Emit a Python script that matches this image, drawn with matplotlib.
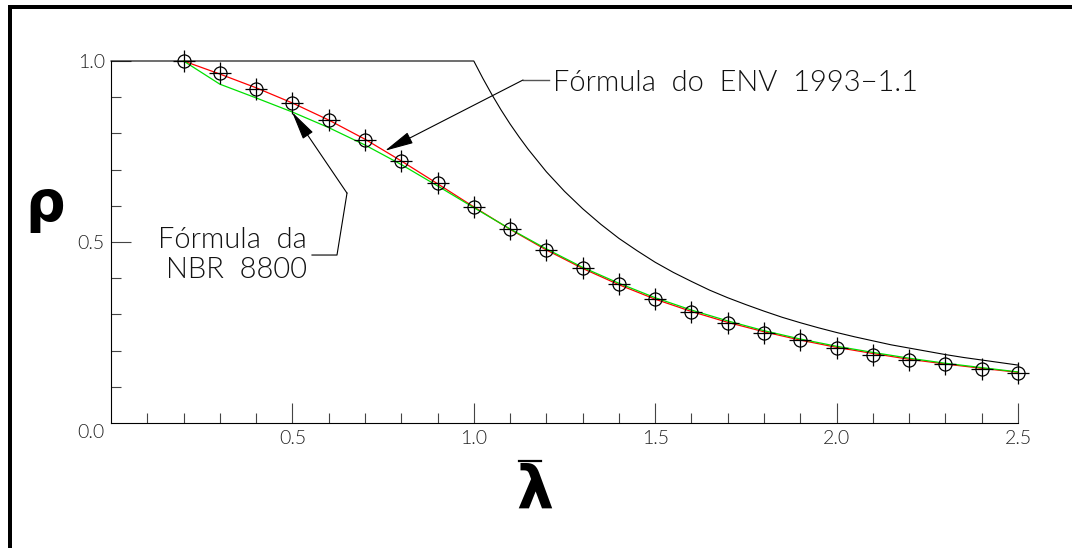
import matplotlib
matplotlib.use("Agg")
import matplotlib.pyplot as plt
from matplotlib.patches import Rectangle
from matplotlib.lines import Line2D

# Slenderness values (lambda bar)
lam = [0.2, 0.3, 0.4, 0.5, 0.6, 0.7, 0.8, 0.9, 1.0, 1.1, 1.2, 1.3,
       1.4, 1.5, 1.6, 1.7, 1.8, 1.9, 2.0, 2.1, 2.2, 2.3, 2.4, 2.5]

# Reduction factor, ENV 1993-1.1 formula (red)
rho_env = [1.000, 0.964, 0.926, 0.884, 0.837, 0.784, 0.724, 0.661,
           0.597, 0.535, 0.478, 0.427, 0.382, 0.342, 0.308, 0.278,
           0.252, 0.229, 0.209, 0.192, 0.176, 0.163, 0.151, 0.140]

# Reduction factor, NBR 8800 formula (green)
rho_nbr = [1.000, 0.936, 0.898, 0.859, 0.816, 0.768, 0.714, 0.655,
           0.595, 0.536, 0.481, 0.430, 0.386, 0.346, 0.312, 0.282,
           0.255, 0.232, 0.212, 0.195, 0.179, 0.165, 0.153, 0.141]

# Measured points (circle + cross)
rho_pts = [1.000, 0.966, 0.924, 0.884, 0.838, 0.783, 0.725, 0.662,
           0.598, 0.535, 0.478, 0.427, 0.383, 0.343, 0.308, 0.277,
           0.250, 0.228, 0.207, 0.189, 0.175, 0.162, 0.150, 0.137]

# Euler curve (black), capped at 1.0
lam_euler = [0.0, 1.0, 1.025, 1.05, 1.075, 1.1, 1.125, 1.15, 1.2, 1.25, 1.3,
             1.35, 1.4, 1.45, 1.5, 1.55, 1.6, 1.65, 1.7, 1.75, 1.8, 1.85,
             1.9, 1.95, 2.0, 2.05, 2.1, 2.15, 2.2, 2.25, 2.3, 2.35, 2.4,
             2.45, 2.5]
rho_euler = [1.000, 1.000, 0.952, 0.907, 0.865, 0.826, 0.790, 0.756, 0.694,
             0.640, 0.592, 0.549, 0.510, 0.476, 0.444, 0.416, 0.391, 0.367,
             0.346, 0.327, 0.309, 0.292, 0.277, 0.263, 0.250, 0.238, 0.227,
             0.216, 0.207, 0.198, 0.189, 0.181, 0.174, 0.167, 0.160]

x_major = [0.5, 1.0, 1.5, 2.0, 2.5]
x_labels = ["0.5", "1.0", "1.5", "2.0", "2.5"]
y_major = [0.5, 1.0]
y_labels = ["0.5", "1.0"]

W, H = 1072, 548
fig = plt.figure(figsize=(W / 100, H / 100), dpi=100)
fig.patch.set_facecolor("white")

# thick frame on the left and top
fig.add_artist(Rectangle((8 / W, 0), 4 / W, (H - 5) / H, transform=fig.transFigure,
                         facecolor="black", edgecolor="none"))
fig.add_artist(Rectangle((8 / W, (H - 9) / H), (W - 8) / W, 4 / H, transform=fig.transFigure,
                         facecolor="black", edgecolor="none"))

x0, x1, ytop, ybot = 111, 1018, 61, 423
ax = fig.add_axes([x0 / W, (H - ybot) / H, (x1 - x0) / W, (ybot - ytop) / H])
ax.set_xlim(0, 2.5)
ax.set_ylim(0, 1.0)
for s in ("top", "right"):
    ax.spines[s].set_visible(False)
for s in ("left", "bottom"):
    ax.spines[s].set_linewidth(0.8)
    ax.spines[s].set_color("black")

label_font = dict(family="Lato", weight=300)
tick_col = "#444444"
ax.set_xticks(x_major)
ax.set_xticklabels(x_labels, fontdict=label_font)
ax.set_xticks([round(0.1 * i, 1) for i in range(1, 25) if i % 5 != 0], minor=True)
ax.set_yticks(y_major)
ax.set_yticklabels(y_labels, fontdict=label_font)
ax.set_yticks([round(0.1 * i, 1) for i in range(1, 10) if i % 5 != 0], minor=True)
ax.tick_params(which="major", direction="in", length=14.4, width=0.8, color=tick_col,
               labelsize=14, labelcolor="#222222")
ax.tick_params(which="minor", direction="in", length=7.5, width=0.8, color=tick_col)
ax.tick_params(axis="x", which="major", pad=5)
ax.tick_params(axis="y", which="major", pad=4.5)
ax.annotate("0.0", xy=(0, 0), xycoords="data", xytext=(-6, -10),
            textcoords="offset pixels", ha="right", va="center",
            fontsize=14, color="#222222", annotation_clip=False, **label_font)

# curves
ax.plot(lam_euler, rho_euler, color="black", lw=0.8, clip_on=False, zorder=2)
ax.plot(lam, rho_env, color="#ff0000", lw=0.9, clip_on=False, zorder=3)
ax.plot(lam, rho_nbr, color="#00e000", lw=0.9, clip_on=False, zorder=3)

# points
ax.plot(lam, rho_pts, linestyle="none", marker="o", ms=9.4, mfc="none", mec="black",
        mew=0.9, clip_on=False, zorder=4)
ax.plot(lam, rho_pts, linestyle="none", marker="+", ms=16.5, mec="black",
        mew=0.9, clip_on=False, zorder=4)

txt_kw = dict(fontsize=21, color="#111111", family="Lato", weight=300)
arrow_kw = dict(arrowstyle="-|>,head_length=1.8,head_width=0.38", color="black",
                lw=0.8, shrinkA=0, shrinkB=0)

# ENV 1993-1.1 callout
ax.annotate("", xy=(0.755, 0.752), xytext=(1.1356, 0.9475), arrowprops=arrow_kw,
            annotation_clip=False)
ax.plot([1.1356, 1.207], [0.9475, 0.9475], color="#555555", lw=1.0, clip_on=False)
ax.text(1.218, 0.939, "Fórmula  do  ENV  1993−1.1", ha="left", va="center", **txt_kw)

# NBR 8800 callout
ax.annotate("", xy=(0.499, 0.859), xytext=(0.6505, 0.635), arrowprops=arrow_kw,
            annotation_clip=False)
ax.plot([0.6505, 0.6229, 0.554], [0.635, 0.464, 0.464], color="black", lw=0.8,
        clip_on=False)
ax.text(0.540, 0.465, "Fórmula  da\nNBR  8800", ha="right", va="center",
        multialignment="right", linespacing=1.2, **txt_kw)

# axis symbols
fig.text(45 / W, 1 - 206 / H, "ρ", ha="center", va="center", fontsize=40,
         fontweight="bold", color="black")
fig.text(535 / W, 1 - 491 / H, "λ", ha="center", va="center", fontsize=42,
         fontweight="bold", color="black")
fig.add_artist(Line2D([519 / W, 541 / W], [1 - 461 / H, 1 - 461 / H],
                      transform=fig.transFigure, color="black", lw=1.6))

fig.savefig("out.png", dpi=100, facecolor="white")
